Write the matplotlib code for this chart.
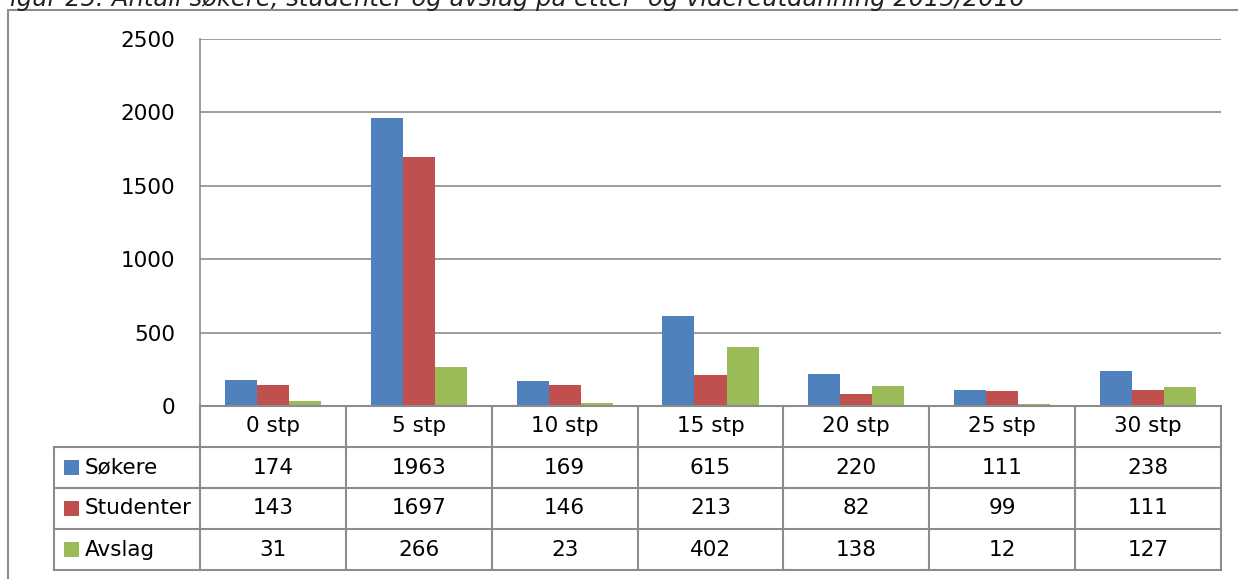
import numpy as np
import matplotlib
matplotlib.use("Agg")
import matplotlib.pyplot as plt
from matplotlib.transforms import blended_transform_factory
from matplotlib.patches import Rectangle
from matplotlib.lines import Line2D

categories = ["0 stp", "5 stp", "10 stp", "15 stp", "20 stp", "25 stp", "30 stp"]
series_names = ["Søkere", "Studenter", "Avslag"]
sokere = [174, 1963, 169, 615, 220, 111, 238]
studenter = [143, 1697, 146, 213, 82, 99, 111]
avslag = [31, 266, 23, 402, 138, 12, 127]
colors = ["#4F81BD", "#C0504D", "#9BBB59"]
yticks = [0, 500, 1000, 1500, 2000, 2500]
title = "Figur 25: Antall søkere, studenter og avslag på etter- og videreutdanning 2015/2016"

W, H = 1238, 579
fig = plt.figure(figsize=(W / 100, H / 100), dpi=100)
plt.rcParams['font.family'] = ['DejaVu Sans']

gray = "#8C8C8C"
fs = 15.5

# outer frame
fig.patches.append(Rectangle((8 / W, -0.1), 1.2, (H - 10) / H + 0.1, transform=fig.transFigure,
                             fill=False, edgecolor=gray, lw=1.5))
# title (partially cut off at the top)
fig.text(-4 / W, 1 - 6 / H, title, fontsize=17.5, style="italic", ha="left", va="baseline",
         color="#222222")

ax_l, ax_r, ax_t, ax_b = 200, 1221, 39, 406
ax = fig.add_axes([ax_l / W, (H - ax_b) / H, (ax_r - ax_l) / W, (ax_b - ax_t) / H])

x = np.arange(len(categories))
bw = 0.22
for i, (vals, c) in enumerate(zip([sokere, studenter, avslag], colors)):
    ax.bar(x + (i - 1) * bw, vals, width=bw, color=c, edgecolor="none", zorder=3)

ax.set_xlim(-0.5, len(categories) - 0.5)
ax.set_ylim(0, 2500)
ax.set_yticks(yticks)
ax.set_yticklabels([str(t) for t in yticks], fontsize=fs)
ax.tick_params(axis="y", length=0, pad=18)
ax.set_xticks([])
ax.yaxis.grid(True, color=gray, lw=1.2, zorder=0)
ax.set_axisbelow(True)
for s in ["top", "right", "bottom"]:
    ax.spines[s].set_visible(False)
ax.spines["left"].set_color(gray)
ax.spines["left"].set_linewidth(1.2)

# data table
tr = blended_transform_factory(ax.transData, ax.transAxes)
axh = ax_b - ax_t
row_px = [406, 447, 488, 529, 570]
ry = [(ax_b - p) / axh for p in row_px]
lw = 1.5

def line(xs, ys):
    ax.add_line(Line2D(xs, ys, transform=tr, color=gray, lw=lw, clip_on=False, zorder=5))

n = len(categories)
line([-0.5, n - 0.5], [ry[0], ry[0]])
for yy in ry[1:]:
    line([-1.5, n - 0.5], [yy, yy])
for k in range(n + 1):
    line([k - 0.5, k - 0.5], [ry[0], ry[-1]])
line([-1.5, -1.5], [ry[1], ry[-1]])

for k, cat in enumerate(categories):
    ax.text(k, (ry[0] + ry[1]) / 2, cat, transform=tr, ha="center", va="center", fontsize=fs)

data_rows = [sokere, studenter, avslag]
for r, (name, vals, c) in enumerate(zip(series_names, data_rows, colors)):
    yc = (ry[r + 1] + ry[r + 2]) / 2
    for k, v in enumerate(vals):
        ax.text(k, yc, str(v), transform=tr, ha="center", va="center", fontsize=fs)
    # legend key square
    sq_px = 15
    fig.patches.append(Rectangle((64 / W, (H - (row_px[r + 1] + row_px[r + 2]) / 2 - sq_px / 2) / H),
                                 sq_px / W, sq_px / H, transform=fig.transFigure,
                                 facecolor=c, edgecolor="none"))
    fig.text(85 / W, (H - (row_px[r + 1] + row_px[r + 2]) / 2) / H, name, ha="left", va="center",
             fontsize=fs)

fig.savefig("out.png", dpi=100)
